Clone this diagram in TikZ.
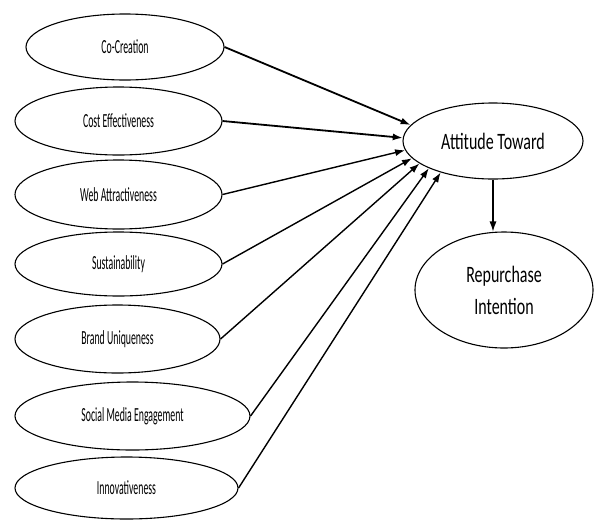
\documentclass[tikz,border=0pt]{standalone}
\usepackage{fontspec}
\setmainfont{Carlito}
\newfontfamily\leftfont[FakeStretch=0.49]{Carlito}
\newfontfamily\rightfont[FakeStretch=0.68]{Carlito}
\usetikzlibrary{shapes.geometric,arrows.meta}
\begin{document}
\begin{tikzpicture}[x=1pt,y=-1pt,
  oval/.style={draw=black, line width=1.1pt, ellipse, inner sep=0pt, font=\leftfont\fontsize{20}{23}\selectfont},
  bigoval/.style={draw=black, line width=1.1pt, ellipse, inner sep=0pt, align=center, font=\rightfont\fontsize{23.5}{32}\selectfont},
  link/.style={draw=black, line width=1.4pt, -{Latex[length=10pt,width=7pt]}}]
\useasboundingbox (0,0) rectangle (594,520);
\node[oval, minimum width=198pt, minimum height=66pt] (co) at (125,47) {Co-Creation};
\node[oval, minimum width=207pt, minimum height=68pt] (cost) at (118.5,121) {Cost Effectiveness};
\node[oval, minimum width=207pt, minimum height=69pt] (web) at (118.5,194.5) {Web Attractiveness};
\node[oval, minimum width=207pt, minimum height=64pt] (sus) at (118.5,264) {Sustainability};
\node[oval, minimum width=205pt, minimum height=68pt] (brand) at (117.5,339) {Brand Uniqueness};
\node[oval, minimum width=235pt, minimum height=68pt] (social) at (132.5,416) {Social Media Engagement};
\node[oval, minimum width=223pt, minimum height=62pt] (innov) at (126.5,488) {Innovativeness};
\node[bigoval, minimum width=180pt, minimum height=76pt] (att) at (493,141) {Attitude Toward};
\node[bigoval, minimum width=178pt, minimum height=116pt] (rep) at (504,290) {Repurchase\\Intention};
\draw[link, line width=1.8pt] (co.east) -- (att.169);
\draw[link, line width=1.8pt] (cost.east) -- (att.178);
\draw[link] (web.east) -- (att.186);
\draw[link] (sus.east) -- (att.192.5);
\draw[link] (brand.east) -- (att.197);
\draw[link] (social.east) -- (att.203);
\draw[link] (innov.east) -- (att.211);
\draw[link, line width=1.1pt] (att.south) -- (att.south |- rep.north);
\end{tikzpicture}
\end{document}
